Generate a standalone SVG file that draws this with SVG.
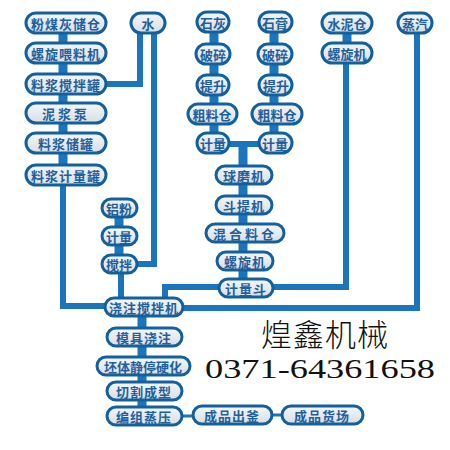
<svg xmlns="http://www.w3.org/2000/svg" width="450" height="450" viewBox="0 0 450 450">
<defs>
<linearGradient id="pg" x1="0" y1="0" x2="0" y2="1">
<stop offset="0" stop-color="#f4f6f8"/>
<stop offset="1" stop-color="#d9dee4"/>
</linearGradient>
</defs>
<style>
.n{fill:url(#pg);stroke:#13609f;stroke-width:3}
.t{font-family:"Noto Sans CJK SC",sans-serif;font-weight:bold;font-size:13px;fill:#1f5f9c;text-anchor:middle;dominant-baseline:central}
.w{letter-spacing:1px}
.c{fill:none;stroke:#1b75bc;stroke-linejoin:miter}
.s{stroke-width:9}
.l{stroke-width:6}
.h{stroke-width:3}
</style>
<rect width="450" height="450" fill="#ffffff"/>
<g id="connectors">
<path class="c s" d="M63 23V175"/>
<path class="c s" d="M214 22V143"/>
<path class="c s" d="M274 22V143"/>
<path class="c l" d="M213 144H276"/>
<path class="c s" d="M243 144V288"/>
<path class="c s" d="M347 23V53"/>
<path class="c s" d="M119 208V264"/>
<path class="c s" d="M142 307V416"/>
<path class="c l" d="M140 30V84H106"/>
<path class="c l" d="M154 30V264H136"/>
<path class="c l" d="M121 264V298"/>
<path class="c l" d="M63 175V306H105"/>
<path class="c l" d="M220 287H165V298"/>
<path class="c l" d="M273 287H346V53"/>
<path class="c l" d="M417 23V308H183"/>
<path class="c h" d="M182 416H193"/>
<path class="c h" d="M272 415H282"/>
</g>
<g id="n1"><rect class="n" x="26" y="13" width="80" height="20" rx="10"/><text class="t w" x="66" y="23">粉煤灰储仓</text></g>
<g id="n2"><rect class="n" x="26" y="43" width="80" height="20" rx="10"/><text class="t w" x="66" y="53">螺旋喂料机</text></g>
<g id="n3"><rect class="n" x="26" y="74" width="80" height="20" rx="10"/><text class="t w" x="66" y="84">料浆搅拌罐</text></g>
<g id="n4"><rect class="n" x="26" y="103" width="80" height="20" rx="10"/><text class="t" x="66" y="113" style="letter-spacing:3px">泥浆泵</text></g>
<g id="n5"><rect class="n" x="26" y="133" width="80" height="20" rx="10"/><text class="t w" x="66" y="143">料浆储罐</text></g>
<g id="n6"><rect class="n" x="26" y="165" width="80" height="20" rx="10"/><text class="t w" x="66" y="175">料浆计量罐</text></g>
<g id="n7"><rect class="n" x="131" y="13" width="34" height="20" rx="10"/><text class="t" x="148" y="23">水</text></g>
<g id="n8"><rect class="n" x="197" y="12" width="32" height="20" rx="10"/><text class="t" x="213" y="22">石灰</text></g>
<g id="n9"><rect class="n" x="196" y="44" width="34" height="20" rx="10"/><text class="t" x="213" y="54">破碎</text></g>
<g id="n10"><rect class="n" x="197" y="75" width="32" height="20" rx="10"/><text class="t" x="213" y="85">提升</text></g>
<g id="n11"><rect class="n" x="188" y="104" width="49" height="20" rx="10"/><text class="t" x="212" y="114">粗料仓</text></g>
<g id="n12"><rect class="n" x="197" y="133" width="32" height="20" rx="10"/><text class="t" x="213" y="143">计量</text></g>
<g id="n13"><rect class="n" x="259" y="12" width="33" height="20" rx="10"/><text class="t" x="275" y="22">石膏</text></g>
<g id="n14"><rect class="n" x="258" y="44" width="34" height="20" rx="10"/><text class="t" x="275" y="54">破碎</text></g>
<g id="n15"><rect class="n" x="259" y="75" width="33" height="20" rx="10"/><text class="t" x="276" y="85">提升</text></g>
<g id="n16"><rect class="n" x="252" y="104" width="50" height="20" rx="10"/><text class="t" x="277" y="114">粗料仓</text></g>
<g id="n17"><rect class="n" x="259" y="133" width="33" height="20" rx="10"/><text class="t" x="275" y="143">计量</text></g>
<g id="n18"><rect class="n" x="322" y="13" width="50" height="20" rx="10"/><text class="t" x="347" y="23">水泥仓</text></g>
<g id="n19"><rect class="n" x="322" y="43" width="50" height="20" rx="10"/><text class="t" x="347" y="53">螺旋机</text></g>
<g id="n20"><rect class="n" x="398" y="13" width="34" height="20" rx="10"/><text class="t" x="415" y="23">蒸汽</text></g>
<g id="n21"><rect class="n" x="102" y="199" width="35" height="18" rx="9"/><text class="t" x="119" y="208">铝粉</text></g>
<g id="n22"><rect class="n" x="102" y="227" width="35" height="18" rx="9"/><text class="t" x="119" y="236">计量</text></g>
<g id="n23"><rect class="n" x="102" y="255" width="35" height="18" rx="9"/><text class="t" x="119" y="264">搅拌</text></g>
<g id="n24"><rect class="n" x="216" y="166" width="56" height="18" rx="9"/><text class="t w" x="244" y="175">球磨机</text></g>
<g id="n25"><rect class="n" x="216" y="196" width="56" height="18" rx="9"/><text class="t w" x="244" y="205">斗提机</text></g>
<g id="n26"><rect class="n" x="206" y="224" width="78" height="18" rx="9"/><text class="t" x="245" y="233" style="letter-spacing:3px">混合料仓</text></g>
<g id="n27"><rect class="n" x="217" y="252" width="56" height="18" rx="9"/><text class="t w" x="245" y="261">螺旋机</text></g>
<g id="n28"><rect class="n" x="219" y="279" width="54" height="18" rx="9"/><text class="t w" x="246" y="288">计量斗</text></g>
<g id="n29"><rect class="n" x="105" y="298" width="78" height="18" rx="9"/><text class="t w" x="144" y="307">浇注搅拌机</text></g>
<g id="n30"><rect class="n" x="107" y="328" width="75" height="18" rx="9"/><text class="t w" x="144" y="337">模具浇注</text></g>
<g id="n31"><rect class="n" x="97" y="357" width="93" height="18" rx="9"/><text class="t" x="143" y="366">坯体静停硬化</text></g>
<g id="n32"><rect class="n" x="107" y="382" width="75" height="18" rx="9"/><text class="t w" x="144" y="391">切割成型</text></g>
<g id="n33"><rect class="n" x="107" y="407" width="75" height="18" rx="9"/><text class="t w" x="144" y="416">编组蒸压</text></g>
<g id="n34"><rect class="n" x="193" y="406" width="79" height="18" rx="9"/><text class="t w" x="232" y="415">成品出釜</text></g>
<g id="n35"><rect class="n" x="282" y="406" width="81" height="18" rx="9"/><text class="t w" x="322" y="415">成品货场</text></g>
<text x="325" y="346" font-family="'Liberation Serif','Noto Sans CJK SC',serif" font-size="31" fill="#111" text-anchor="middle" letter-spacing="1" style="font-weight:300">煌鑫机械</text>
<text x="205" y="378" font-family="'Liberation Serif',serif" font-size="28" fill="#111" textLength="230" lengthAdjust="spacingAndGlyphs">0371-64361658</text>
</svg>
